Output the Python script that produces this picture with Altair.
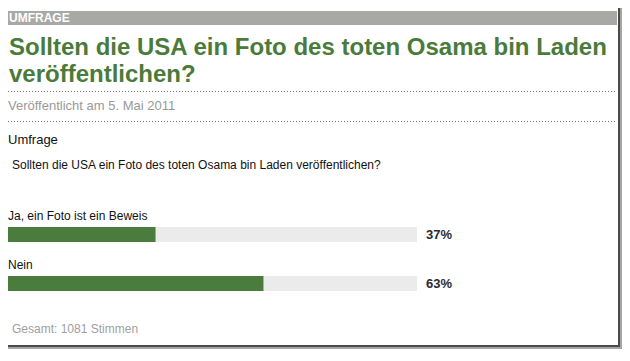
import altair as alt
import pandas as pd

# ---- content ----
section_label = "UMFRAGE"
title_lines = ["Sollten die USA ein Foto des toten Osama bin Laden", "veröffentlichen?"]
published = "Veröffentlicht am 5. Mai 2011"
box_heading = "Umfrage"
question = "Sollten die USA ein Foto des toten Osama bin Laden veröffentlichen?"
answers = ["Ja, ein Foto ist ein Beweis", "Nein"]
percents = [37, 63]
total_votes = 1081

df = pd.DataFrame({
    "answer": answers,
    "pct": percents,
    "full": [100] * len(answers),
    "label": [f"{p}%" for p in percents],
})
one = pd.DataFrame({"k": [0]})

FONT = "Liberation Sans"
GREEN = "#4a7c3e"
W, H = 614, 341

xscale = alt.Scale(domain=[0, 100], range=[-6, 409], zero=True)
yscale = alt.Scale(type="point", domain=answers, range=[226.5, 275.5], padding=0)


def deco_text(txt, x, y, size, color, weight="normal", **kw):
    return alt.Chart(one).mark_text(
        align="left", baseline="alphabetic", font=FONT, fontSize=size,
        fontWeight=weight, color=color, **kw
    ).encode(x=alt.value(x), y=alt.value(y), text=alt.value(txt))


band = alt.Chart(one).mark_rect(color="#a8a8a5").encode(
    x=alt.value(0), x2=alt.value(609), y=alt.value(3), y2=alt.value(17)
)
band_text = deco_text(section_label, 1, 14, 12, "white", "bold")
title = deco_text(title_lines, 1, 47, 24, "#4a7b3b", "bold", lineHeight=27)
dot1 = alt.Chart(one).mark_rule(color="#777777", strokeDash=[1, 2], strokeWidth=1).encode(
    x=alt.value(0), x2=alt.value(609), y=alt.value(83.5)
)
dot2 = alt.Chart(one).mark_rule(color="#777777", strokeDash=[1, 2], strokeWidth=1).encode(
    x=alt.value(0), x2=alt.value(609), y=alt.value(113.5)
)
pub = deco_text(published, 0, 102, 13, "#999999")
heading = deco_text(box_heading, 0, 136, 13, "#111111")
quest = deco_text(question, 4, 161, 12, "#111111")
total = deco_text(f"Gesamt: {total_votes} Stimmen", 4, 325, 12, "#a0a0a0")

track = alt.Chart(df).mark_bar(height=15, color="#ebebeb").encode(
    x=alt.X("full:Q", scale=xscale, axis=None),
    y=alt.Y("answer:N", scale=yscale, axis=None),
)
bars = alt.Chart(df).mark_bar(height=15, color=GREEN).encode(
    x=alt.X("pct:Q", scale=xscale, axis=None),
    y=alt.Y("answer:N", scale=yscale, axis=None),
)
ans_labels = alt.Chart(df).mark_text(
    align="left", baseline="alphabetic", dy=-15, font=FONT, fontSize=12, color="#111111"
).encode(
    x=alt.value(0),
    y=alt.Y("answer:N", scale=yscale, axis=None),
    text="answer:N",
)
pct_labels = alt.Chart(df).mark_text(
    align="left", baseline="alphabetic", dx=9, dy=4.5, font=FONT, fontSize=13,
    fontWeight="bold", color="#2a2a33"
).encode(
    x=alt.X("full:Q", scale=xscale, axis=None),
    y=alt.Y("answer:N", scale=yscale, axis=None),
    text="label:N",
)

frame_r1 = alt.Chart(one).mark_rect(color="#4a4a4a").encode(
    x=alt.value(610), x2=alt.value(612), y=alt.value(0), y2=alt.value(H - 2)
)
frame_r2 = alt.Chart(one).mark_rect(color="#a5a5a5").encode(
    x=alt.value(612), x2=alt.value(614), y=alt.value(0), y2=alt.value(H)
)
frame_b1 = alt.Chart(one).mark_rect(color="#4a4a4a").encode(
    x=alt.value(0), x2=alt.value(612), y=alt.value(H - 4), y2=alt.value(H - 2)
)
frame_b2 = alt.Chart(one).mark_rect(color="#a5a5a5").encode(
    x=alt.value(0), x2=alt.value(614), y=alt.value(H - 2), y2=alt.value(H)
)

chart = alt.layer(
    band, band_text, title, dot1, dot2, pub, heading, quest,
    track, bars, ans_labels, pct_labels, total,
    frame_r1, frame_r2, frame_b1, frame_b2,
).properties(
    width=W, height=H, padding=0,
    autosize=alt.AutoSizeParams(type="none"),
    background="white",
).configure_view(stroke=None)

chart.save("out.html", embed_options={"renderer": "svg", "actions": False})
